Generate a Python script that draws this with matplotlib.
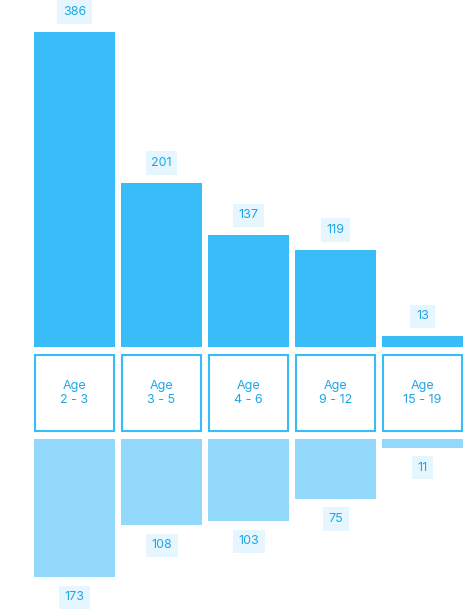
import matplotlib
matplotlib.use("Agg")
import matplotlib.pyplot as plt
from matplotlib.patches import Rectangle

categories = ["Age\n2 - 3", "Age\n3 - 5", "Age\n4 - 6", "Age\n9 - 12", "Age\n15 - 19"]
top_values = [386, 201, 137, 119, 13]
bottom_values = [173, 108, 103, 75, 11]

W, H = 463, 609
fig = plt.figure(figsize=(W/100, H/100), dpi=100)
ax = fig.add_axes([0, 0, 1, 1])
ax.set_xlim(0, W); ax.set_ylim(H, 0); ax.axis("off")

k_top, k_bot = 0.816, 0.80
base_top, box_top, box_bot, base_bot = 347, 355, 431, 439
x0, step, bw = 34, 87, 81
c_top, c_bot, c_edge = "#38bdf8", "#93d9fb", "#38bdf8"
lbl_bg, lbl_fg = "#e6f6fe", "#1fa6e6"
font = "Inter"

def label(x, y, s):
    ax.text(x, y, s, ha="center", va="center", fontsize=9, color=lbl_fg, family=font,
            bbox=dict(boxstyle="square,pad=0.45", fc=lbl_bg, ec="none"))

for i, (cat, tv, bv) in enumerate(zip(categories, top_values, bottom_values)):
    x = x0 + i*step
    ht = tv*k_top
    ax.bar(x, -ht, width=bw, bottom=base_top, align="edge", color=c_top, lw=0)
    label(x+bw/2, base_top-ht-20, str(tv))
    ax.add_patch(Rectangle((x+1, box_top), bw-2, box_bot-box_top, fc="white", ec=c_edge, lw=1.5))
    ax.text(x+bw/2, (box_top+box_bot)/2, cat, ha="center", va="center", fontsize=9,
            color=lbl_fg, family=font, linespacing=1.3)
    hb = bv*k_bot
    ax.bar(x, hb, width=bw, bottom=base_bot, align="edge", color=c_bot, lw=0)
    label(x+bw/2, base_bot+hb+20, str(bv))

fig.savefig("out.png", dpi=100)
